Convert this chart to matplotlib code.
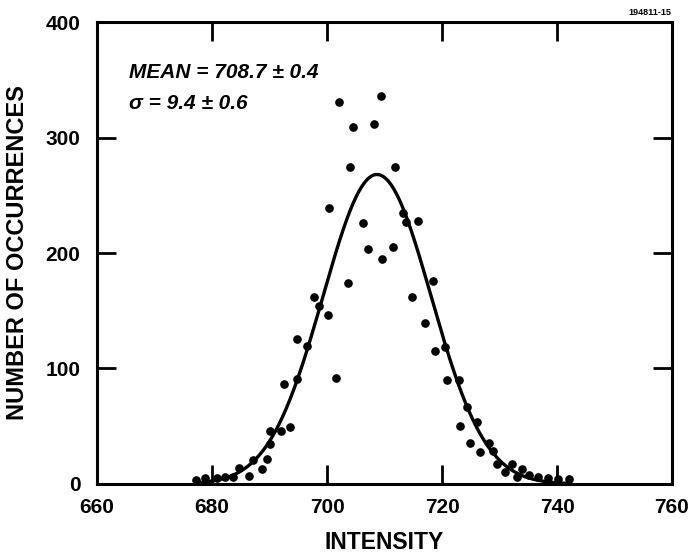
import numpy as np
import matplotlib
matplotlib.use("Agg")
import matplotlib.pyplot as plt

plt.rcParams['font.family'] = ['Liberation Sans Narrow', 'Liberation Sans', 'DejaVu Sans']

# measured histogram points (intensity, occurrences)
intensity = [677.2, 678.8, 680.8, 682.3, 683.7, 684.7, 686.5, 687.2, 688.7, 689.5,
             690.0, 690.0, 692.0, 692.5, 693.6, 694.7, 694.7, 696.6, 697.7, 698.6,
             700.1, 700.3, 701.6, 702.0, 703.6, 704.0, 704.5, 706.2, 707.2, 708.2,
             709.4, 709.5, 711.5, 711.8, 713.3, 713.7, 714.8, 715.9, 717.0, 718.4,
             718.8, 720.5, 720.8, 723.0, 723.2, 724.4, 724.9, 726.0, 726.6, 728.1,
             728.9, 729.6, 731.0, 732.2, 733.0, 733.9, 735.2, 736.7, 738.5, 740.2,
             742.0]
occurrences = [3.5, 4.9, 5.5, 5.8, 5.8, 13.6, 7.2, 20.8, 13.2, 21.4,
               34.4, 45.9, 45.9, 86.8, 49.6, 90.9, 125.3, 119.7, 161.6, 154.4,
               146.1, 238.7, 91.5, 330.9, 173.9, 274.2, 308.8, 226.2, 203.5, 311.7,
               336.2, 195.0, 204.9, 274.2, 234.9, 226.6, 162.2, 227.4, 139.7, 175.9,
               114.9, 118.6, 90.0, 90.0, 50.5, 66.4, 35.5, 53.9, 27.4, 35.2,
               28.8, 17.3, 10.1, 17.3, 6.3, 13.0, 7.8, 5.8, 4.9, 4.1,
               4.1]

# gaussian fit parameters
fit_mean = 708.7
fit_sigma = 9.4
fit_peak = 268

x_ticks = [660, 680, 700, 720, 740, 760]
y_ticks = [0, 100, 200, 300, 400]

fig = plt.figure(figsize=(6.91, 5.59), dpi=100)
ax = fig.add_axes([0.1404, 0.1342, 0.8321, 0.8264])

xs = np.linspace(677, 742, 400)
ax.plot(xs, fit_peak * np.exp(-0.5 * ((xs - fit_mean) / fit_sigma) ** 2),
        color='black', lw=2.4)
ax.plot(intensity, occurrences, 'o', color='black', ms=5.2)

ax.set_xlim(660, 760)
ax.set_ylim(0, 400)
ax.set_xticks(x_ticks)
ax.set_yticks(y_ticks)
ax.tick_params(direction='in', length=14, width=2, top=True, right=True,
               labelsize=15)
ax.tick_params(axis='y', pad=12)
ax.tick_params(axis='x', pad=10)
for lab in ax.get_xticklabels() + ax.get_yticklabels():
    lab.set_fontweight('bold')
for sp in ax.spines.values():
    sp.set_linewidth(2.2)

ax.set_xlabel('INTENSITY', fontsize=16.5, fontweight='bold', labelpad=10)
ax.set_ylabel('NUMBER OF OCCURRENCES', fontsize=17, fontweight='bold', labelpad=12)

ax.text(0.055, 0.89, 'MEAN = 708.7 ± 0.4', transform=ax.transAxes,
        fontsize=15, fontweight='bold', style='italic', va='center')
ax.text(0.055, 0.823, 'σ = 9.4 ± 0.6', transform=ax.transAxes,
        fontsize=15, fontweight='bold', style='italic', va='center')
fig.text(0.972, 0.978, '194811-15', ha='right', va='center',
         fontsize=6.5, fontweight='bold')

fig.savefig('out.png', dpi=100)
